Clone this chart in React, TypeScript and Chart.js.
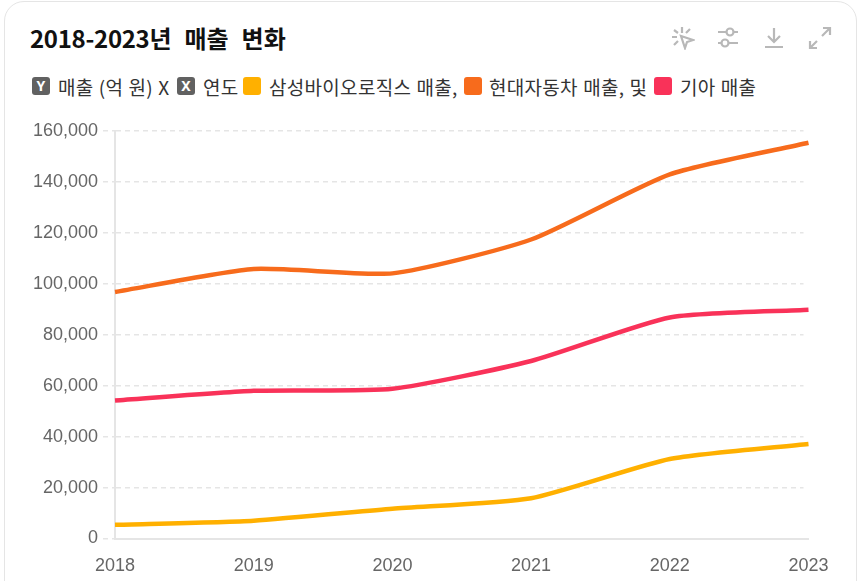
import { useEffect, useRef, type CSSProperties } from "react";
import Chart from "chart.js/auto";

const years = ["2018", "2019", "2020", "2021", "2022", "2023"];
const samsung = [5400, 7000, 11700, 15800, 31200, 37100];
const hyundai = [96800, 105800, 104100, 117400, 143000, 155400];
const kia = [54200, 58000, 58800, 69700, 86800, 89800];

const AMBER = "#FFB000";
const ORANGE = "#F76B1C";
const RED = "#F93259";
const GRID = "#E5E5E5";
const INK = "#666666";
const ICON = "#B8B8B8";
const KR = "'Noto Sans CJK KR', 'Noto Sans', sans-serif";
const TICK_FONT = { family: "'Liberation Sans', Arial, sans-serif", size: 18 };

const legendText: CSSProperties = { position: "absolute", top: 73, fontSize: 19, letterSpacing: 0.3, wordSpacing: 0.7, lineHeight: "28px", color: "#333", fontFamily: KR, whiteSpace: "nowrap" };

function Swatch({ left, color, label }: { left: number; color: string; label?: string }) {
  return (
    <div style={{ position: "absolute", left, top: 77, width: 18, height: 18, borderRadius: 3, background: color, color: "#fff", fontSize: 14, fontWeight: 700, lineHeight: "18px", textAlign: "center", fontFamily: "'Noto Sans', sans-serif" }}>
      {label}
    </div>
  );
}

function Icons() {
  const s = { position: "absolute", width: 24, height: 24, fill: "none", stroke: ICON, strokeWidth: 2.2 } as const;
  return (
    <>
      <svg style={{ ...s, left: 671, top: 26 }} viewBox="0 0 24 24">
        <path d="M10 10 L22 14 L16 16 L14 22 Z" />
        <path d="M11 1 V7 M3 4 L7 7 M19 3 L15 7 M1 11 H6 M3 19 L7 15" />
      </svg>
      <svg style={{ ...s, left: 717, top: 26 }} viewBox="0 0 24 24">
        <circle cx="13" cy="6" r="3.5" />
        <circle cx="8" cy="17" r="3.5" />
        <path d="M1 6 H9 M17 6 H21 M1 17 H4 M12 17 H21" />
      </svg>
      <svg style={{ ...s, left: 762, top: 26 }} viewBox="0 0 24 24">
        <path d="M12 2 V16 M6 10 L12 16 L18 10 M3 21 H21" />
      </svg>
      <svg style={{ ...s, left: 808, top: 26 }} viewBox="0 0 24 24">
        <path d="M14 10 L21 3 M15 2 H22 V9 M9 15 L3 21 M2 15 V22 H9" />
      </svg>
    </>
  );
}

// grid stops a little short of the last category
const trimGrid = {
  id: "trimGrid",
  beforeDatasetsDraw(chart: Chart) {
    const { ctx, chartArea } = chart;
    ctx.save();
    ctx.fillStyle = "#fff";
    ctx.fillRect(chartArea.right - 5, chartArea.top - 2, 8, chartArea.bottom - chartArea.top);
    ctx.restore();
  },
};

export default function App() {
  const ref = useRef<HTMLCanvasElement>(null);

  useEffect(() => {
    if (!ref.current) return;
    const line = (label: string, data: number[], color: string) => ({
      label,
      data,
      borderColor: color,
      backgroundColor: color,
      borderWidth: 4.5,
      pointRadius: 0,
      tension: 0.2,
    });
    const chart = new Chart(ref.current, {
      type: "line",
      data: {
        labels: years,
        datasets: [line("삼성바이오로직스 매출", samsung, AMBER), line("현대자동차 매출", hyundai, ORANGE), line("기아 매출", kia, RED)],
      },
      plugins: [trimGrid],
      options: {
        animation: false,
        responsive: false,
        layout: { padding: { top: 131, right: 52.5, bottom: 0, left: 0 } },
        plugins: { legend: { display: false }, title: { display: false }, tooltip: { enabled: false } },
        scales: {
          x: {
            offset: false,
            afterFit: (s) => { s.height = 42.5; },
            grid: { display: false, tickLength: 6 },
            border: { color: GRID, width: 2 },
            ticks: { color: INK, autoSkip: false, maxRotation: 0, padding: 11, font: TICK_FONT },
          },
          y: {
            min: 0,
            max: 160000,
            afterFit: (s) => { s.width = 115; },
            grid: { color: GRID, lineWidth: 1.5, tickLength: 12, tickBorderDash: [5, 4], tickColor: GRID },
            border: { color: GRID, width: 2, dash: [5, 4] },
            ticks: {
              color: INK,
              stepSize: 20000,
              padding: 5,
              font: TICK_FONT,
              callback: (v) => Number(v).toLocaleString("en-US"),
            },
          },
        },
      },
    });
    return () => chart.destroy();
  }, []);

  return (
    <div style={{ position: "absolute", left: 0, top: 0, width: 861, height: 581, overflow: "hidden", background: "#fff" }}>
      <div style={{ position: "absolute", left: 4, top: 1, width: 851, height: 700, border: "1px solid #E5E5E5", borderRadius: 20 }} />
      <div style={{ position: "absolute", left: 30, top: 20, fontSize: 24, fontWeight: 700, lineHeight: "36px", color: "#111", fontFamily: KR, whiteSpace: "nowrap", wordSpacing: 7.5 }}>
        <span style={{ letterSpacing: -0.3 }}>2018-2023</span>년 매출 변화
      </div>
      <Icons />
      <Swatch left={32} color="#616161" label="Y" />
      <div style={{ ...legendText, left: 58 }}>매출 (억 원) X</div>
      <Swatch left={177} color="#616161" label="X" />
      <div style={{ ...legendText, left: 203 }}>연도</div>
      <Swatch left={243} color={AMBER} />
      <div style={{ ...legendText, left: 269 }}>삼성바이오로직스 매출,</div>
      <Swatch left={464} color={ORANGE} />
      <div style={{ ...legendText, left: 489 }}>현대자동차 매출, 및</div>
      <Swatch left={654} color={RED} />
      <div style={{ ...legendText, left: 680 }}>기아 매출</div>
      <canvas ref={ref} width={861} height={581} style={{ position: "absolute", left: 0, top: 0, display: "block" }} />
    </div>
  );
}
